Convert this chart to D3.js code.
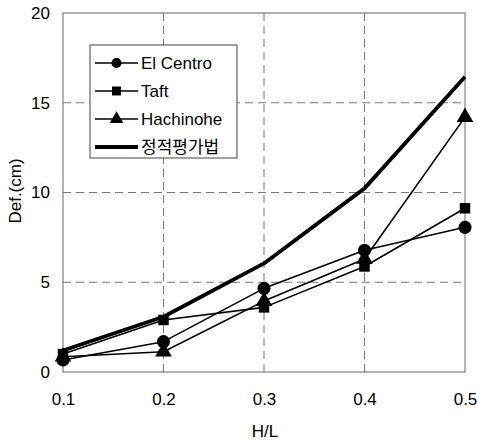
<!DOCTYPE html>
<html><head><meta charset="utf-8">
<script src="https://cdn.jsdelivr.net/npm/d3@7"></script>
<style>body{margin:0;background:#fff}svg{display:block}text{font-family:Arial,"Liberation Sans","Noto Sans CJK KR",sans-serif}</style>
</head><body><svg id="c" width="477" height="441"></svg>
<script>
const xValues = [0.1, 0.2, 0.3, 0.4, 0.5];
const xTickLabels = ["0.1", "0.2", "0.3", "0.4", "0.5"];
const yTicks = [0, 5, 10, 15, 20];
const elCentro = [0.67, 1.69, 4.66, 6.78, 8.06];
const taft = [1.0, 2.9, 3.6, 5.88, 9.12];
const hachinohe = [0.85, 1.13, 3.95, 6.3, 14.2];
const staticMethod = [1.2, 3.08, 6.05, 10.23, 16.45];
const seriesNames = ["El Centro", "Taft", "Hachinohe", "정적평가법"];

const svg = d3.select("#c");
const m = {l: 63, r: 12, t: 13, b: 69};
const W = 477, H = 441;
const x = d3.scaleLinear().domain([0.1, 0.5]).range([m.l, W - m.r]);
const y = d3.scaleLinear().domain([0, 20]).range([H - m.b, m.t]);

// grid
const g = svg.append("g");
g.selectAll(".gx").data(xValues.slice(1, -1)).join("line")
  .attr("x1", d => x(d)).attr("x2", d => x(d)).attr("y1", y(0)).attr("y2", y(20))
  .attr("stroke", "#777").attr("stroke-width", 1).attr("stroke-dasharray", "8,5");
g.selectAll(".gy").data(yTicks.slice(1, -1)).join("line")
  .attr("y1", d => y(d)).attr("y2", d => y(d)).attr("x1", x(0.1)).attr("x2", x(0.5))
  .attr("stroke", "#777").attr("stroke-width", 1).attr("stroke-dasharray", "8,5");
// frame
svg.append("rect").attr("x", x(0.1)).attr("y", y(20)).attr("width", x(0.5) - x(0.1)).attr("height", y(0) - y(20))
  .attr("fill", "none").attr("stroke", "#666").attr("stroke-width", 1);

// axes
const xa = svg.append("g").attr("transform", `translate(0,${y(0)})`)
  .call(d3.axisBottom(x).tickValues(xValues).tickFormat((d, i) => xTickLabels[i]).tickSize(0).tickPadding(21));
xa.select(".domain").remove();
xa.attr("font-size", 17).attr("font-family", null);
xa.selectAll("text").attr("fill", "#000");
const ya = svg.append("g").attr("transform", `translate(${x(0.1)},0)`)
  .call(d3.axisLeft(y).tickValues(yTicks).tickSize(0).tickPadding(13));
ya.select(".domain").remove();
ya.attr("font-size", 17).attr("font-family", null);
ya.selectAll("text").attr("fill", "#000");

svg.append("text").attr("x", 265).attr("y", 437).attr("text-anchor", "middle").attr("font-size", 17).text("H/L");
svg.append("text").attr("transform", "translate(21,191) rotate(-90)").attr("text-anchor", "middle").attr("font-size", 17).text("Def.(cm)");

const line = d3.line().x((d, i) => x(xValues[i])).y(d => y(d));
const sym = {
  circle: d3.symbol().type(d3.symbolCircle).size(135),
  square: d3.symbol().type(d3.symbolSquare).size(110),
  triangle: d3.symbol().type(d3.symbolTriangle).size(120)
};
const series = [
  {v: elCentro, s: "circle", w: 1.6},
  {v: taft, s: "square", w: 1.6},
  {v: hachinohe, s: "triangle", w: 1.6},
  {v: staticMethod, s: null, w: 3.8}
];
series.forEach(se => {
  svg.append("path").attr("d", line(se.v)).attr("fill", "none").attr("stroke", "#000").attr("stroke-width", se.w).attr("stroke-linejoin", "round");
});
series.forEach(se => {
  if (!se.s) return;
  svg.selectAll(null).data(se.v).join("path")
    .attr("transform", (d, i) => `translate(${x(xValues[i])},${y(d)})`)
    .attr("d", sym[se.s]()).attr("fill", "#000");
});

// legend
const lg = svg.append("g");
lg.append("rect").attr("x", 90).attr("y", 45).attr("width", 147).attr("height", 113).attr("fill", "#fff").attr("stroke", "#444").attr("stroke-width", 1);
const ly = [63, 91, 119, 147];
series.forEach((se, i) => {
  lg.append("line").attr("x1", 95).attr("x2", 138).attr("y1", ly[i]).attr("y2", ly[i]).attr("stroke", "#000").attr("stroke-width", se.w);
  if (se.s) lg.append("path").attr("transform", `translate(116.5,${ly[i]})`).attr("d", d3.symbol().type(se.s === "circle" ? d3.symbolCircle : se.s === "square" ? d3.symbolSquare : d3.symbolTriangle).size(80)()).attr("fill", "#000");
  lg.append("text").attr("x", 141).attr("y", ly[i] + 6).attr("font-size", 17).text(seriesNames[i]);
});
</script></body></html>
